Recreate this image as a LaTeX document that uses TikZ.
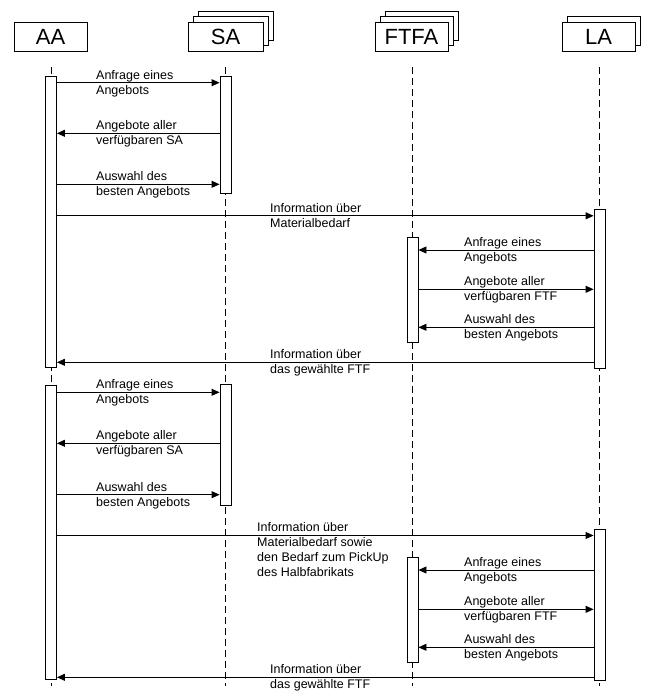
\documentclass[tikz,border=0pt]{standalone}
\usepackage{fontspec}
\setmainfont{Liberation Sans}
\usetikzlibrary{arrows.meta}
\begin{document}
\begin{tikzpicture}[x=1pt,y=-1pt,
  hdr/.style={draw, fill=white, line width=0.9pt, minimum width=73pt, minimum height=29pt, inner sep=0pt, font=\fontsize{22}{26}\selectfont},
  ghost/.style={draw, fill=white, line width=0.9pt, minimum width=73pt, minimum height=29pt, inner sep=0pt},
  lifeline/.style={line width=0.9pt, dash pattern=on 7pt off 4pt},
  bar/.style={draw, fill=white, line width=0.9pt, minimum width=11pt, inner sep=0pt, anchor=north},
  msg/.style={line width=0.9pt, -{Triangle[length=8pt,width=7pt]}},
  lbl/.style={anchor=base west, align=left, inner sep=0pt, font=\fontsize{12.5}{15}\selectfont},
]
\useasboundingbox (0,0) rectangle (645,691);

% ---------- headers ----------
\node[hdr] (AA) at (50.5,36.5) {AA};
\node[ghost, minimum width=75pt] (SAg2) at (235.5,25.9) {};
\node[ghost, minimum width=75pt] (SAg1) at (230.5,31.2) {};
\node[hdr, minimum width=75pt] (SA) at (225.5,36.5) {SA};
\node[ghost] (FTg2) at (421.5,25.9) {};
\node[ghost] (FTg1) at (416.5,31.2) {};
\node[hdr] (FT) at (411.5,36.5) {FTFA};
\node[ghost] (LAg1) at (603.5,31.0) {};
\node[hdr] (LA) at (598.5,36.5) {LA};

% ---------- lifelines ----------
\coordinate (aaTop) at (51,67);    \coordinate (aaBot) at (51,686);
\coordinate (saTop) at (225.5,67); \coordinate (saBot) at (225.5,686);
\coordinate (ftTop) at (412.5,67); \coordinate (ftBot) at (412.5,686);
\coordinate (laTop) at (599.5,67); \coordinate (laBot) at (599.5,686);
\draw[lifeline] (aaTop) -- (aaBot);
\draw[lifeline] (saTop) -- (saBot);
\draw[lifeline] (ftTop) -- (ftBot);
\draw[lifeline] (laTop) -- (laBot);

% ---------- activation bars ----------
\node[bar, minimum height=291pt] (aa1) at (51,76) {};
\node[bar, minimum height=294pt] (aa2) at (51,385) {};
\node[bar, minimum height=117pt] (sa1) at (225.5,76) {};
\node[bar, minimum height=121pt] (sa2) at (225.5,384) {};
\node[bar, minimum height=159pt] (la1) at (599.5,209) {};
\node[bar, minimum height=151pt] (la2) at (599.5,529) {};
\node[bar, minimum height=105pt] (ft1) at (412.5,237) {};
\node[bar, minimum height=105pt] (ft2) at (412.5,557) {};

% ---------- message heights ----------
\coordinate (y1) at (0,82.7);
\coordinate (y2) at (0,133.3);
\coordinate (y3) at (0,184.3);
\coordinate (y4) at (0,215.8);
\coordinate (y5) at (0,250);
\coordinate (y6) at (0,289.3);
\coordinate (y7) at (0,327.3);
\coordinate (y8) at (0,362.3);
\coordinate (y9) at (0,392.3);
\coordinate (y10) at (0,443.3);
\coordinate (y11) at (0,494.7);
\coordinate (y12) at (0,535.5);
\coordinate (y13) at (0,570);
\coordinate (y14) at (0,609.3);
\coordinate (y15) at (0,647.3);
\coordinate (y16) at (0,677.3);

% ---------- block 1 ----------
\draw[msg] (aa1.east |- y1) -- (sa1.west |- y1);
\node[lbl] (t1) at (96,94) {Anfrage eines\\Angebots};
\draw[msg] (sa1.west |- y2) -- (aa1.east |- y2);
\node[lbl] (t2) at (96,144.6) {Angebote aller\\verfügbaren SA};
\draw[msg] (aa1.east |- y3) -- (sa1.west |- y3);
\node[lbl] (t3) at (96,195.6) {Auswahl des\\besten Angebots};
\draw[msg] (aa1.east |- y4) -- (la1.west |- y4);
\node[lbl] (t4) at (270,227.1) {Information über\\Materialbedarf};
\draw[msg] (la1.west |- y5) -- (ft1.east |- y5);
\node[lbl] (t5) at (464,261.3) {Anfrage eines\\Angebots};
\draw[msg] (ft1.east |- y6) -- (la1.west |- y6);
\node[lbl] (t6) at (464,300.6) {Angebote aller\\verfügbaren FTF};
\draw[msg] (la1.west |- y7) -- (ft1.east |- y7);
\node[lbl] (t7) at (464,338.6) {Auswahl des\\besten Angebots};
\draw[msg] (la1.west |- y8) -- (aa1.east |- y8);
\node[lbl] (t8) at (270,373.6) {Information über\\das gewählte FTF};

% ---------- block 2 ----------
\draw[msg] (aa2.east |- y9) -- (sa2.west |- y9);
\node[lbl] (t9) at (96,403.6) {Anfrage eines\\Angebots};
\draw[msg] (sa2.west |- y10) -- (aa2.east |- y10);
\node[lbl] (t10) at (96,454.6) {Angebote aller\\verfügbaren SA};
\draw[msg] (aa2.east |- y11) -- (sa2.west |- y11);
\node[lbl] (t11) at (96,506) {Auswahl des\\besten Angebots};
\draw[msg] (aa2.east |- y12) -- (la2.west |- y12);
\node[lbl] (t12) at (257,576.8) {Information über\\Materialbedarf sowie\\den Bedarf zum PickUp\\des Halbfabrikats};
\draw[msg] (la2.west |- y13) -- (ft2.east |- y13);
\node[lbl] (t13) at (464,581.3) {Anfrage eines\\Angebots};
\draw[msg] (ft2.east |- y14) -- (la2.west |- y14);
\node[lbl] (t14) at (464,620.6) {Angebote aller\\verfügbaren FTF};
\draw[msg] (la2.west |- y15) -- (ft2.east |- y15);
\node[lbl] (t15) at (464,658.6) {Auswahl des\\besten Angebots};
\draw[msg] (la2.west |- y16) -- (aa2.east |- y16);
\node[lbl] (t16) at (270,688.6) {Information über\\das gewählte FTF};
\end{tikzpicture}
\end{document}
